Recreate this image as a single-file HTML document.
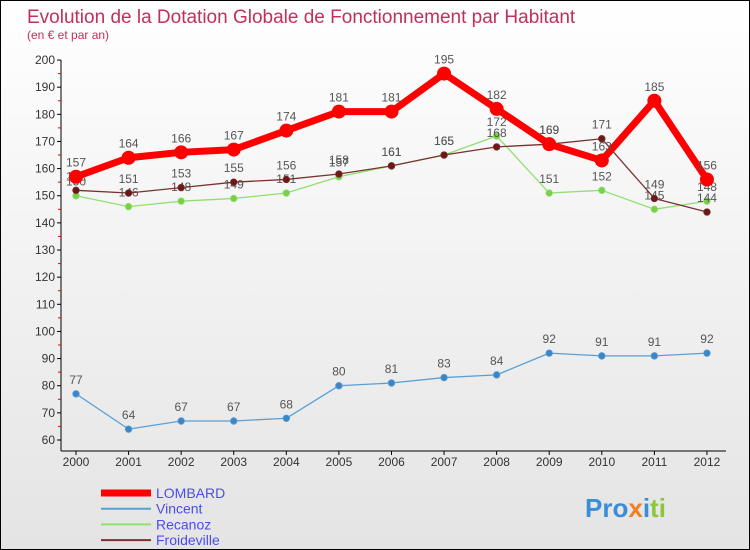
<!DOCTYPE html>
<html><head><meta charset="utf-8"><style>
body{margin:0}
#c{width:748px;height:548px;border:1px solid #000;position:relative;background:linear-gradient(#fff,#e4e4e4);font-family:"Liberation Sans",sans-serif;overflow:hidden}
</style></head><body>
<div id="c">
<svg id="s" width="748" height="548">
<text x="26" y="22" font-size="19" fill="#c0305a">Evolution de la Dotation Globale de Fonctionnement par Habitant</text>
<text x="26" y="38" font-size="12" fill="#c0305a">(en € et par an)</text>
<g id="ax"></g><g id="ser"></g><g id="leg"></g>
<text x="584" y="516" font-size="26" font-weight="bold"><tspan fill="#3a8ed8">Pro</tspan><tspan fill="#f08020">x</tspan><tspan fill="#3a8ed8">i</tspan><tspan fill="#8cc63f">ti</tspan></text>
</svg></div>
<script>
const years=["2000","2001","2002","2003","2004","2005","2006","2007","2008","2009","2010","2011","2012"];
const yTicks=[60,70,80,90,100,110,120,130,140,150,160,170,180,190,200];
const lombard=[157,164,166,167,174,181,181,195,182,169,163,185,156];
const vincent=[77,64,67,67,68,80,81,83,84,92,91,91,92];
const recanoz=[150,146,148,149,151,157,161,165,172,151,152,145,148];
const froideville=[152,151,153,155,156,158,161,165,168,169,171,149,144];
const NS="http://www.w3.org/2000/svg";
const X=i=>75+i*52.58, Y=v=>439-(v-60)*2.714;
function mk(t,a,p){const e=document.createElementNS(NS,t);for(const k in a)e.setAttribute(k,a[k]);p.appendChild(e);return e;}
const ax=document.getElementById('ax');
const yl=mk('line',{x1:60,y1:Y(200),x2:60,y2:450,stroke:'#000'},ax);


const xl=mk('line',{x1:60,y1:450,x2:725,y2:450,stroke:'#000'},ax);


yTicks.forEach(v=>{mk('line',{x1:56,y1:Y(v),x2:60,y2:Y(v),stroke:'#000'},ax);
if(v<200)mk('line',{x1:57,y1:Y(v+5),x2:60,y2:Y(v+5),stroke:'#e00'},ax);
const t=mk('text',{x:54,y:Y(v)+4,'font-size':12,'text-anchor':'end',fill:'#333'},ax);t.textContent=v;

});
years.forEach((y,i)=>{mk('line',{x1:X(i),y1:450,x2:X(i),y2:454,stroke:'#000'},ax);
const t=mk('text',{x:X(i),y:465,'font-size':12,'text-anchor':'middle',fill:'#333'},ax);t.textContent=y;

});
const ser=document.getElementById('ser');
function series(d,name,col,w,r,dot){
const g=mk('g',{},ser);


mk('polyline',{points:d.map((v,i)=>X(i)+','+Y(v)).join(' '),fill:'none',stroke:col,'stroke-width':w,'stroke-linejoin':'round'},g);
d.forEach((v,i)=>{const c=mk('circle',{cx:X(i),cy:Y(v),r:r,fill:dot,stroke:col,'stroke-width':r>5?0:0.8},g);


const t=mk('text',{x:X(i),y:Y(v)-10,'font-size':12,'text-anchor':'middle',fill:'#555'},g);t.textContent=v;

});}
series(vincent,'vincent','#5a9fd4',1.3,3.3,'#3d86c6');
series(recanoz,'recanoz','#90e070',1.3,3.3,'#78d048');
series(froideville,'froideville','#7a3030',1.3,3.3,'#6a1818');
series(lombard,'lombard','#ff0000',7,7,'#ff0000');
const leg=document.getElementById('leg');
[['LOMBARD','#ff0000',7],['Vincent','#5a9fd4',2],['Recanoz','#90e070',2],['Froideville','#7a3030',2]].forEach((e,i)=>{
const y=492+i*15.7;
const g=mk('g',{},leg);


mk('line',{x1:100,y1:y,x2:150,y2:y,stroke:e[1],'stroke-width':e[2]},g);
const t=mk('text',{x:155,y:y+5,'font-size':14,fill:'#4c4cee'},g);t.textContent=e[0];});
</script></body></html>
